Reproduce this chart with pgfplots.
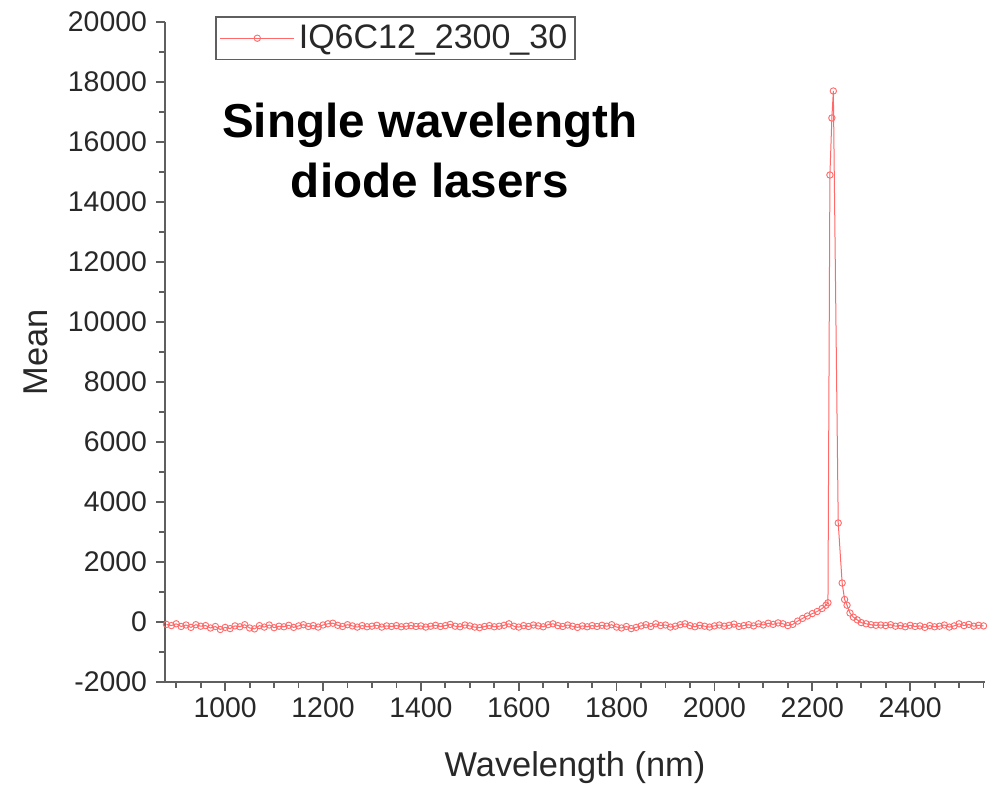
\documentclass[border=0pt]{standalone}
\usepackage{pgfplots}
\pgfplotsset{compat=1.18}
\usepackage{fontspec}
\setmainfont{Liberation Sans}
\definecolor{serred}{RGB}{255,105,105}
\definecolor{axgray}{RGB}{95,95,95}
\definecolor{txtgray}{RGB}{40,40,40}
\begin{document}
\begin{tikzpicture}
\begin{axis}[
  scale only axis, width=410pt, height=330pt,
  xmin=877, xmax=2553, ymin=-2000, ymax=20000,
  scaled ticks=false,
  axis x line*=bottom, axis y line*=left,
  axis line style={axgray, line width=1pt},
  every tick/.style={axgray, line width=0.9pt},
  xtick={1000,1200,...,2400},
  minor xtick={900,950,...,2550},
  ytick={-2000,0,...,20000},
  minor ytick={-1000,1000,...,19000},
  tick align=outside,
  major tick length=4.5pt, minor tick length=2.8pt,
  /pgf/number format/assume math mode=true,
  /pgf/number format/1000 sep={},
  tick label style={font=\fontsize{14.2}{16}\selectfont, text=txtgray},
  yticklabel style={xshift=-1pt},
  xlabel={Wavelength (nm)}, ylabel={Mean},
  label style={font=\fontsize{17.2}{20}\selectfont, text=txtgray},
  xlabel style={at={(axis description cs:0.5,-0.13)}, anchor=center},
  ylabel style={at={(axis description cs:-0.157,0.5)}, anchor=center},
  legend style={at={(axis description cs:0.061,1.009)}, anchor=north west,
    draw=axgray, line width=0.8pt, font=\fontsize{17}{20}\selectfont,
    inner xsep=2pt, inner ysep=2pt},
  legend image code/.code={\draw[mark repeat=2,mark phase=2,#1] plot coordinates {(0cm,0cm)(0.65cm,0cm)(1.3cm,0cm)};},
  clip=false,
]
\addplot[color=serred, line width=0.5pt, mark=o, mark size=1.6pt, mark options={line width=0.45pt}] table {
x y
880 -80
890 -120
900 -60
910 -150
920 -100
930 -180
940 -90
950 -140
960 -120
970 -200
980 -150
990 -250
1000 -180
1010 -220
1020 -130
1030 -160
1040 -90
1050 -200
1060 -230
1070 -120
1080 -170
1090 -100
1100 -190
1110 -140
1120 -160
1130 -110
1140 -180
1150 -130
1160 -90
1170 -150
1180 -120
1190 -170
1200 -100
1210 -60
1220 -40
1230 -110
1240 -150
1250 -90
1260 -130
1270 -170
1280 -120
1290 -160
1300 -140
1310 -110
1320 -170
1330 -130
1340 -150
1350 -120
1360 -160
1370 -140
1380 -120
1390 -150
1400 -130
1410 -170
1420 -140
1430 -110
1440 -150
1450 -120
1460 -80
1470 -140
1480 -160
1490 -100
1500 -130
1510 -170
1520 -190
1530 -150
1540 -120
1550 -160
1560 -140
1570 -110
1580 -60
1590 -140
1600 -170
1610 -120
1620 -150
1630 -100
1640 -130
1650 -160
1660 -90
1670 -60
1680 -120
1690 -150
1700 -100
1710 -140
1720 -180
1730 -130
1740 -160
1750 -120
1760 -150
1770 -110
1780 -140
1790 -90
1800 -170
1810 -200
1820 -150
1830 -220
1840 -180
1850 -130
1860 -90
1870 -150
1880 -60
1890 -120
1900 -100
1910 -170
1920 -140
1930 -90
1940 -60
1950 -120
1960 -160
1970 -110
1980 -140
1990 -170
2000 -130
2010 -100
2020 -140
2030 -110
2040 -70
2050 -150
2060 -120
2070 -90
2080 -130
2090 -60
2100 -100
2110 -40
2120 -80
2130 -30
2140 -60
2150 -120
2160 -80
2170 30
2180 120
2190 200
2200 280
2210 350
2220 450
2228 560
2232 640
2236 14900
2240 16800
2243 17700
2253 3300
2261 1300
2266 750
2271 560
2277 300
2284 160
2292 70
2300 -20
2310 -60
2320 -90
2330 -110
2340 -100
2350 -120
2360 -90
2370 -140
2380 -120
2390 -160
2400 -110
2410 -150
2420 -130
2430 -180
2440 -120
2450 -160
2460 -140
2470 -100
2480 -170
2490 -130
2500 -60
2510 -120
2520 -80
2530 -140
2540 -110
2550 -130
};
\addlegendentry{\textcolor{txtgray}{IQ6C12\_2300\_30}}
\node[font=\bfseries\fontsize{23.8}{30}\selectfont, align=center, text=black] at (axis description cs:0.323,0.805) {Single wavelength\\diode lasers};
\end{axis}
\pgfresetboundingbox
\useasboundingbox (-82.5pt,-51.5pt) rectangle (411.5pt,341pt);
\end{tikzpicture}
\end{document}
